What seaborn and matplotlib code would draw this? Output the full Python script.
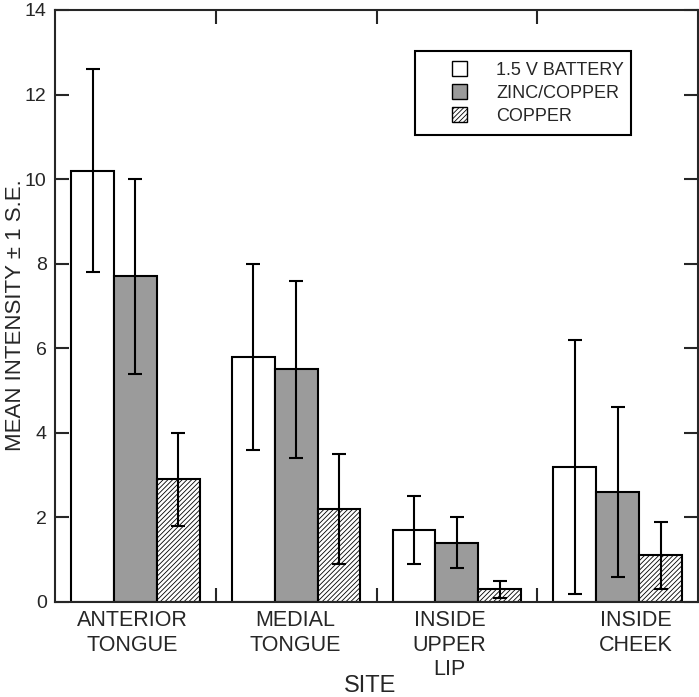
import numpy as np
import pandas as pd
import seaborn as sns
import matplotlib
matplotlib.use('Agg')
import matplotlib.pyplot as plt
from matplotlib.patches import Rectangle
from matplotlib.transforms import ScaledTranslation

# values
sites = ['ANTERIOR\nTONGUE', 'MEDIAL\nTONGUE', 'INSIDE\nUPPER\nLIP', 'INSIDE\nCHEEK']
sources = ['1.5 V BATTERY', 'ZINC/COPPER', 'COPPER']
battery_mean = [10.2, 5.8, 1.7, 3.2]
battery_se = [2.4, 2.2, 0.8, 3.0]
zinc_mean = [7.7, 5.5, 1.4, 2.6]
zinc_se = [2.3, 2.1, 0.6, 2.0]
copper_mean = [2.9, 2.2, 0.3, 1.1]
copper_se = [1.1, 1.3, 0.2, 0.8]

means = [battery_mean, zinc_mean, copper_mean]
ses = [battery_se, zinc_se, copper_se]

rows = []
for src, m, e in zip(sources, means, ses):
    for site, mv, ev in zip(sites, m, e):
        rows.append({'site': site, 'source': src, 'mean': mv, 'se': ev})
df = pd.DataFrame(rows)

sns.set_style('ticks')
plt.rcParams['font.family'] = ['Liberation Sans', 'DejaVu Sans']
plt.rcParams['hatch.linewidth'] = 0.6

fig = plt.figure(figsize=(6.99, 6.97), dpi=100)
ax = fig.add_axes([0.0787, 0.1363, 0.9199, 0.8494])

sns.barplot(data=df, x='site', y='mean', hue='source', order=sites, hue_order=sources,
            palette=['white', '#9b9b9b', 'white'], saturation=1, width=0.8, gap=0,
            edgecolor='black', linewidth=1.5, errorbar=None, legend=False, ax=ax)

# hatch the copper bars
for bar in ax.containers[2]:
    bar.set_hatch('///////')

# error bars (+/- 1 S.E.) at bar centres
for cont, src in zip(ax.containers, sources):
    sub = df[df['source'] == src]
    xs = [b.get_x() + b.get_width() / 2 for b in cont]
    ax.errorbar(xs, sub['mean'].values, yerr=sub['se'].values, fmt='none',
                ecolor='black', elinewidth=1.5, capsize=5, capthick=1.5, zorder=5)

ax.set_xlim(-0.5, 3.5)
ax.set_ylim(0, 14)
ax.set_yticks(range(0, 15, 2))
ax.set_xticks([0.5, 1.5, 2.5], minor=True)
ax.tick_params(axis='x', which='major', length=0, pad=6, labelsize=15.5)
ax.tick_params(axis='x', which='minor', direction='in', length=10, width=1.5,
               top=True, bottom=True)
ax.tick_params(axis='y', direction='in', length=10, width=1.5, left=True, right=True,
               labelsize=14, pad=6)
for sp in ax.spines.values():
    sp.set_visible(True)
    sp.set_linewidth(1.5)

# site labels are not quite centred under their groups in the original
label_shift = [-3, -1, -7.5, 18.5]
for lbl, dx in zip(ax.get_xticklabels(), label_shift):
    lbl.set_transform(lbl.get_transform() + ScaledTranslation(dx / 100, 0, fig.dpi_scale_trans))

ax.set_xlabel('SITE', fontsize=17)
ax.xaxis.set_label_coords(0.49, -0.124)
ax.set_ylabel('MEAN INTENSITY \u00b1 1 S.E.', fontsize=16)
ax.yaxis.set_label_coords(-0.045, 0.485)

# legend box drawn as a frame, entries placed inside it
ax.add_patch(Rectangle((0.5599, 0.7889), 0.3359, 0.1418, transform=ax.transAxes,
                       facecolor='white', edgecolor='black', linewidth=1.5, zorder=6))
leg = ax.legend(ax.containers[:3], sources, loc='upper left', bbox_to_anchor=(0.617, 0.913),
                fontsize=13, frameon=False, handlelength=0.85, handleheight=0.85,
                handletextpad=1.6, borderpad=0, labelspacing=0.3, borderaxespad=0)
leg.set_zorder(7)
for h in leg.legend_handles:
    h.set_linewidth(1.0)

fig.savefig('out.png', dpi=100)
